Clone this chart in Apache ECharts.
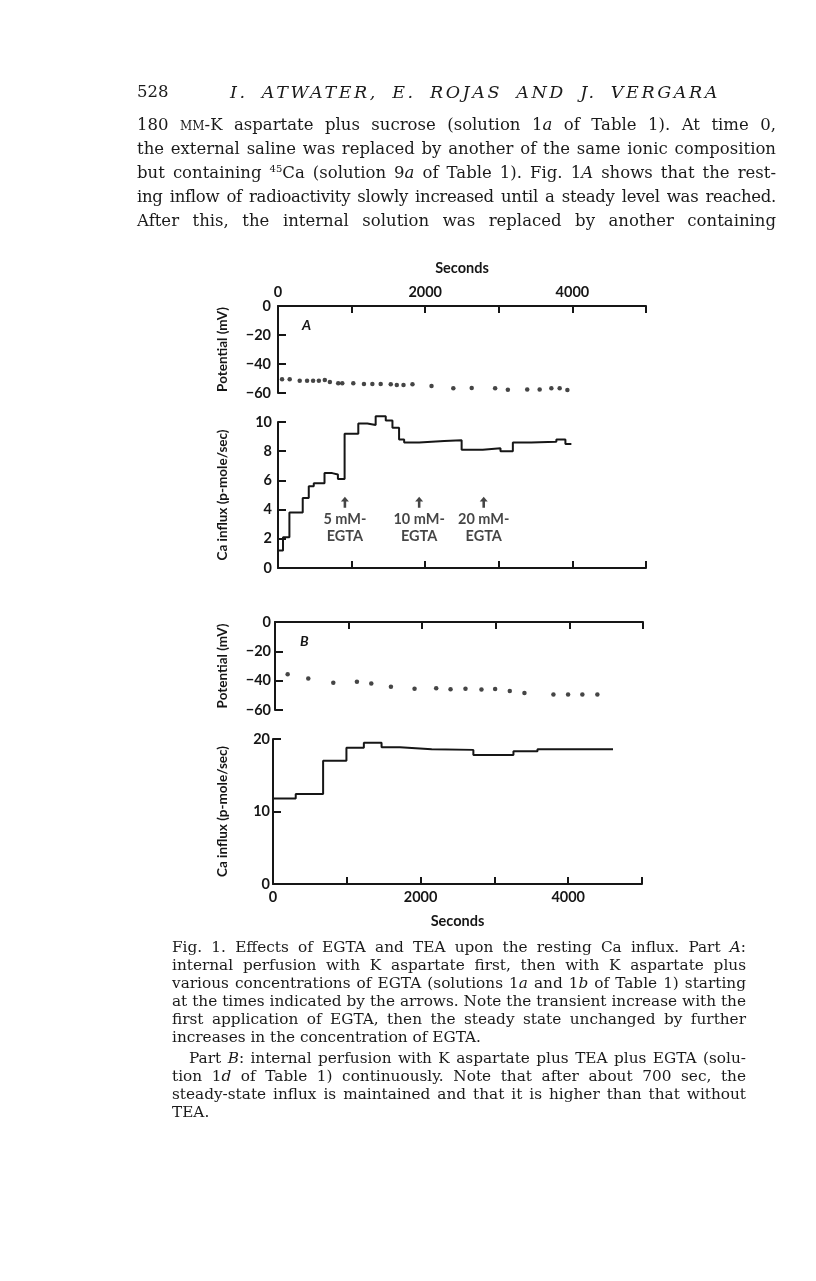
<!DOCTYPE html>
<html>
<head>
<meta charset="utf-8">
<script src="https://cdn.jsdelivr.net/npm/echarts@6/dist/echarts.min.js"></script>
<style>
  html, body { margin:0; padding:0; background:#fff; }
  #page { position:relative; width:816px; height:1281px; overflow:hidden; background:#fff; }
  #chart { position:absolute; left:0; top:0; width:816px; height:1281px; }
  .t { position:absolute; white-space:nowrap; color:#1a1a1a; font-family:"DejaVu Serif", serif; pointer-events:none; }
  .j { text-align:justify; text-align-last:justify; }
  .nj { text-align:left; text-align-last:left; }
  .body { font-size:16.5px; line-height:24px; height:24px; left:137px; width:639px; }
  .cap { font-size:15.3px; line-height:18px; height:18px; left:172px; width:574px; }
  .sc { font-variant:small-caps; }
</style>
</head>
<body>
<div id="page">
  <div id="chart"></div>

  <div class="t" style="left:137px;top:80px;font-size:16.5px;line-height:24px;">528</div>
  <div class="t j" style="left:230px;top:80px;width:490px;font-size:17.5px;line-height:24px;font-style:italic;letter-spacing:2.6px;">I. ATWATER, E. ROJAS AND J. VERGARA</div>

  <div class="t j body" style="top:113px;">180 <span class="sc">mm</span>-K aspartate plus sucrose (solution 1<i>a</i> of Table 1). At time 0,</div>
  <div class="t j body" style="top:137px;">the external saline was replaced by another of the same ionic composition</div>
  <div class="t j body" style="top:161px;">but containing <sup style="font-size:10px;line-height:0">45</sup>Ca (solution 9<i>a</i> of Table 1). Fig. 1<i>A</i> shows that the rest-</div>
  <div class="t j body" style="top:185px;letter-spacing:-0.3px;">ing inflow of radioactivity slowly increased until a steady level was reached.</div>
  <div class="t j body" style="top:209px;">After this, the internal solution was replaced by another containing</div>

  <div class="t j cap" style="top:938px;">Fig. 1. Effects of EGTA and TEA upon the resting Ca influx. Part <i>A</i>:</div>
  <div class="t j cap" style="top:956px;">internal perfusion with K aspartate first, then with K aspartate plus</div>
  <div class="t j cap" style="top:974px;">various concentrations of EGTA (solutions 1<i>a</i> and 1<i>b</i> of Table 1) starting</div>
  <div class="t j cap" style="top:992px;">at the times indicated by the arrows. Note the transient increase with the</div>
  <div class="t j cap" style="top:1010px;">first application of EGTA, then the steady state unchanged by further</div>
  <div class="t nj cap" style="top:1028px;">increases in the concentration of EGTA.</div>
  <div class="t j cap" style="top:1049px;left:189px;width:557px;">Part <i>B</i>: internal perfusion with K aspartate plus TEA plus EGTA (solu-</div>
  <div class="t j cap" style="top:1067px;">tion 1<i>d</i> of Table 1) continuously. Note that after about 700 sec, the</div>
  <div class="t j cap" style="top:1085px;">steady-state influx is maintained and that it is higher than that without</div>
  <div class="t nj cap" style="top:1103px;">TEA.</div>
</div>
<script>
// ---- Data ----
// Part A: membrane potential (mV) vs time (s)
const aPotTime = [55,159,295,395,477,555,636,705,818,873,1023,1168,1282,1395,1532,1614,1705,1827,2086,2382,2632,2950,3123,3386,3555,3714,3827,3932];
const aPotMv   = [-50.5,-50.5,-51.5,-51.5,-51.5,-51.5,-51,-52.4,-53.3,-53.3,-53.3,-53.8,-53.8,-53.8,-54,-54.5,-54.5,-54,-55.2,-56.8,-56.5,-56.8,-57.7,-57.5,-57.5,-56.8,-56.8,-58];
// Part A: Ca influx (p-mole/sec), step edges (s) and step values
const aFluxEdges  = [0,68,155,336,418,486,632,736,814,905,1091,1214,1327,1464,1555,1645,1714,1918,2259,2495,2782,3023,3191,3441,3782,3905,3986];
const aFluxValues = [1.2,2.1,3.8,4.8,5.6,5.8,6.5,6.4,6.1,9.2,9.9,9.8,10.4,10.1,9.6,8.8,8.6,8.7,8.75,8.1,8.2,8.0,8.6,8.65,8.8,8.5];
// Part A: EGTA application arrows
const egtaTimes  = [909, 1918, 2795];
const egtaLabels = ['5 mM-\nEGTA', '10 mM-\nEGTA', '20 mM-\nEGTA'];
// Part B: membrane potential
const bPotTime = [172,452,792,1113,1308,1575,1896,2190,2385,2588,2805,2991,3190,3389,3783,3982,4176,4380];
const bPotMv   = [-35.7,-38.6,-41.4,-40.7,-42,-44.1,-45.5,-45.2,-45.9,-45.5,-46.1,-45.7,-47,-48.4,-49.5,-49.5,-49.5,-49.5];
// Part B: Ca influx
const bFluxEdges  = [0,308,679,995,1231,1471,1720,2150,2715,3258,3584,4607];
const bFluxValues = [11.8,12.4,17.0,18.8,19.5,18.85,18.6,18.5,17.8,18.3,18.6];
// Tick labels
const secTicks = [0, 2000, 4000];

// ---- Build ----
const ink = '#161616';
const FONT = 'Lato';
function zip(xs, ys) { return xs.map((x, i) => [x, ys[i]]); }
function steps(edges, vals) {
  const d = vals.map((v, i) => [edges[i], v]);
  d.push([edges[edges.length - 1], vals[vals.length - 1]]);
  return d;
}
function yFmt(v) { return v < 0 ? '\u2212' + Math.abs(v) : String(v); }
const lbl = { color: ink, fontFamily: FONT, fontWeight: 'bold', fontSize: 14.5 };

function xAx(grid, pos, showLabels, name) {
  return {
    type: 'value', gridIndex: grid, position: pos, min: 0, max: 5000, interval: 1000,
    axisLine: { onZero: false, lineStyle: { color: ink, width: 2 } },
    axisTick: { inside: true, length: 7, lineStyle: { color: ink, width: 2 } },
    splitLine: { show: false },
    axisLabel: Object.assign({ show: showLabels, margin: 6,
      formatter: v => secTicks.includes(v) ? String(v) : '' }, lbl),
    name: name || '', nameLocation: 'middle', nameGap: 30,
    nameTextStyle: Object.assign({}, lbl)
  };
}
function yAx(grid, min, max, interval, name, margin, gap) {
  return {
    type: 'value', gridIndex: grid, min: min, max: max, interval: interval,
    axisLine: { onZero: false, lineStyle: { color: ink, width: 2 } },
    axisTick: { inside: true, length: 8, lineStyle: { color: ink, width: 2 } },
    splitLine: { show: false },
    axisLabel: Object.assign({ margin: margin, formatter: yFmt }, lbl),
    name: name, nameLocation: 'middle', nameGap: gap,
    nameTextStyle: Object.assign({}, lbl, { fontSize: 13.5 })
  };
}

const arrowPath = 'path://M5,0 L10,6 L6.6,6 L6.6,14 L3.4,14 L3.4,6 L0,6 Z';

const option = {
  animation: false,
  backgroundColor: 'transparent',
  grid: [
    { left: 278, top: 306, width: 368, height: 87 },
    { left: 278, top: 422, width: 368, height: 146 },
    { left: 275, top: 622, width: 368, height: 88 },
    { left: 273, top: 739, width: 369, height: 145 }
  ],
  xAxis: [
    xAx(0, 'top', true, 'Seconds'),
    xAx(1, 'bottom', false),
    xAx(2, 'top', false),
    xAx(3, 'bottom', true, 'Seconds')
  ],
  yAxis: [
    yAx(0, -60, 0, 20, 'Potential (mV)', 7, 48),
    yAx(1, 0, 10, 2, 'Ca influx (p-mole/sec)', 6, 48),
    yAx(2, -60, 0, 20, 'Potential (mV)', 4, 45),
    yAx(3, 0, 20, 10, 'Ca influx (p-mole/sec)', 3, 43)
  ],
  graphic: [
    { type: 'text', left: 302, top: 318, style: { text: 'A', fill: ink, font: 'italic bold 14px Lato' } },
    { type: 'text', left: 300, top: 634, style: { text: 'B', fill: ink, font: 'italic bold 14px Lato' } }
  ],
  series: [
    { type: 'scatter', xAxisIndex: 0, yAxisIndex: 0, data: zip(aPotTime, aPotMv), clip: false,
      symbolSize: 4.5, itemStyle: { color: ink } },
    { type: 'line', xAxisIndex: 1, yAxisIndex: 1, data: steps(aFluxEdges, aFluxValues), clip: false,
      step: 'end', showSymbol: false, lineStyle: { color: ink, width: 2 } },
    { type: 'scatter', xAxisIndex: 1, yAxisIndex: 1, clip: false,
      data: egtaTimes.map(t => [t, 4.5]),
      symbol: arrowPath, symbolSize: [8, 11], itemStyle: { color: ink },
      label: { show: true, position: 'bottom', distance: 3, color: ink, fontFamily: FONT,
        fontWeight: 'bold', fontSize: 14.5, lineHeight: 17, align: 'center',
        formatter: p => egtaLabels[p.dataIndex] } },
    { type: 'scatter', xAxisIndex: 2, yAxisIndex: 2, data: zip(bPotTime, bPotMv), clip: false,
      symbolSize: 4.5, itemStyle: { color: ink } },
    { type: 'line', xAxisIndex: 3, yAxisIndex: 3, data: steps(bFluxEdges, bFluxValues), clip: false,
      step: 'end', showSymbol: false, lineStyle: { color: ink, width: 2 } }
  ]
};

const chart = echarts.init(document.getElementById('chart'), null, { renderer: 'canvas' });
chart.setOption(option);
</script>
</body>
</html>
